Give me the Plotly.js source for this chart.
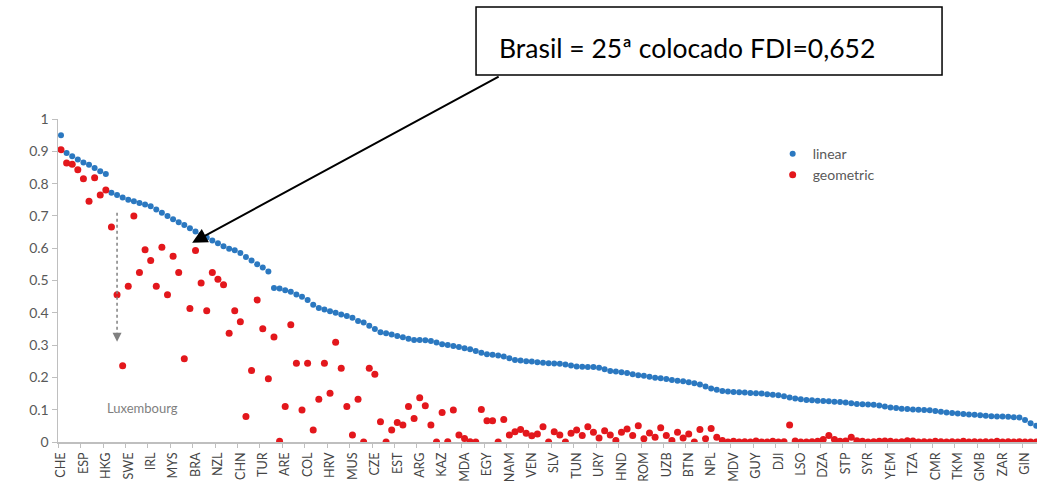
<!DOCTYPE html>
<html>
<head>
<meta charset="utf-8">
<script src="https://cdn.plot.ly/plotly-3.0.1.min.js"></script>
<style>html,body{margin:0;padding:0;background:#fff;}#chart{width:1037px;height:497px;}</style>
</head>
<body>
<div id="chart"></div>
<script>
// Country labels shown on the axis (every 4th country, starting at rank 1)
const tickLabels = ["CHE","ESP","HKG","SWE","IRL","MYS","BRA","NZL","CHN","TUR","ARE","COL","HRV","MUS","CZE","EST","ARG","KAZ","MDA","EGY","NAM","VEN","SLV","TUN","URY","HND","ROM","UZB","BTN","NPL","MDV","GUY","DJI","LSO","DZA","STP","SYR","YEM","TZA","CMR","TKM","GMB","ZAR","GIN"];

// Linear FDI by rank (1..175)
const linearValues = [
0.95,0.895,0.885,0.875,0.865,0.858,0.848,0.838,0.83,0.772,
0.765,0.757,0.75,0.745,0.74,0.735,0.73,0.72,0.71,0.70,
0.69,0.68,0.672,0.662,0.652,0.642,0.633,0.624,0.615,0.606,
0.598,0.594,0.585,0.573,0.562,0.55,0.54,0.528,0.477,0.475,
0.47,0.465,0.457,0.45,0.44,0.425,0.415,0.41,0.405,0.40,
0.395,0.39,0.385,0.375,0.37,0.36,0.35,0.34,0.337,0.333,
0.328,0.324,0.32,0.316,0.316,0.315,0.313,0.308,0.303,0.30,
0.297,0.294,0.29,0.287,0.282,0.276,0.272,0.27,0.268,0.265,
0.259,0.254,0.252,0.25,0.249,0.247,0.245,0.244,0.243,0.242,
0.24,0.237,0.234,0.233,0.232,0.232,0.23,0.225,0.22,0.218,
0.216,0.214,0.21,0.207,0.205,0.202,0.199,0.197,0.195,0.192,
0.19,0.188,0.185,0.182,0.178,0.172,0.166,0.162,0.158,0.156,
0.155,0.154,0.153,0.152,0.151,0.15,0.148,0.146,0.145,0.142,
0.138,0.135,0.132,0.13,0.129,0.128,0.127,0.126,0.125,0.124,
0.122,0.12,0.118,0.117,0.116,0.115,0.113,0.11,0.107,0.105,
0.103,0.102,0.101,0.1,0.099,0.098,0.096,0.094,0.091,0.09,
0.088,0.087,0.085,0.084,0.083,0.081,0.08,0.079,0.079,0.078,
0.077,0.076,0.068,0.058,0.05];

// Geometric FDI by the same rank order
const geometricValues = [
0.905,0.864,0.86,0.843,0.815,0.745,0.818,0.765,0.78,0.666,
0.456,0.236,0.482,0.70,0.525,0.595,0.562,0.482,0.603,0.456,
0.575,0.525,0.258,0.413,0.593,0.492,0.406,0.525,0.504,0.487,
0.337,0.406,0.372,0.079,0.221,0.44,0.351,0.196,0.325,0.002,
0.11,0.363,0.244,0.099,0.244,0.037,0.132,0.244,0.151,0.309,
0.228,0.11,0.022,0.132,0.0,0.228,0.21,0.063,0.0,0.037,
0.06,0.053,0.11,0.073,0.137,0.112,0.053,0.0,0.091,0.001,
0.099,0.022,0.011,0.001,0.0,0.101,0.066,0.066,0.0,0.07,
0.022,0.032,0.039,0.027,0.019,0.025,0.047,0.0,0.032,0.022,
0.0,0.027,0.037,0.02,0.047,0.03,0.012,0.035,0.022,0.005,
0.03,0.04,0.02,0.05,0.01,0.028,0.015,0.044,0.02,0.005,
0.03,0.012,0.025,0.0,0.039,0.01,0.042,0.015,0.005,0.0,
0.002,0.0,0.001,0.0,0.003,0.0,0.0,0.002,0.0,0.001,
0.053,0.003,0.0,0.0,0.001,0.002,0.008,0.02,0.008,0.002,
0.003,0.015,0.004,0.002,0.0,0.001,0.002,0.003,0.002,0.0,
0.001,0.004,0.003,0.0,0.001,0.0,0.002,0.001,0.0,0.001,
0.0,0.002,0.0,0.001,0.0,0.001,0.0,0.002,0.0,0.001,
0.0,0.001,0.0,0.0,0.0];

const yTicks = [0,0.1,0.2,0.3,0.4,0.5,0.6,0.7,0.8,0.9,1];
const yTickText = ["0","0.1","0.2","0.3","0.4","0.5","0.6","0.7","0.8","0.9","1"];

const brazilRank = 25;
const luxembourgRank = 11;

const ranks = linearValues.map((_, i) => i + 1);
const tickRanks = tickLabels.map((_, k) => 1 + 4 * k);

const traces = [
  {x: ranks, y: linearValues, type: 'scatter', mode: 'markers', name: 'linear',
   marker: {color: '#2b78c0', size: 6}, cliponaxis: true},
  {x: ranks, y: geometricValues, type: 'scatter', mode: 'markers', name: 'geometric',
   marker: {color: '#e3171c', size: 7}, cliponaxis: true}
];

const gray = '#595959';
const layout = {
  width: 1037, height: 497,
  margin: {l: 58, r: 0, t: 119, b: 55, pad: 0},
  paper_bgcolor: '#ffffff', plot_bgcolor: '#ffffff',
  font: {family: 'Lato, "Open Sans", sans-serif', color: gray, size: 12},
  showlegend: true,
  legend: {x: 0.73, y: 0.941, xanchor: 'left', yanchor: 'top', bgcolor: 'rgba(0,0,0,0)',
           font: {size: 14, color: gray}, itemwidth: 30, tracegroupgap: 0},
  xaxis: {
    range: [0.465, 175.14], showgrid: false, zeroline: false,
    showline: true, linecolor: '#bfbfbf', linewidth: 1.5,
    tickmode: 'array', tickvals: tickRanks.map(v => v - 0.5), ticktext: tickLabels,
    ticks: 'outside', ticklen: 4, tickcolor: '#bfbfbf', tickangle: -90,
    ticklabelshift: 3,
    tickfont: {size: 12.5, color: '#454545', family: 'Lato, sans-serif'}
  },
  yaxis: {
    range: [0, 1], showgrid: false, zeroline: false,
    showline: true, linecolor: '#bfbfbf', linewidth: 1.5,
    tickmode: 'array', tickvals: yTicks, ticktext: yTickText,
    ticks: 'outside', ticklen: 5, tickcolor: '#bfbfbf',
    tickfont: {size: 14, color: gray, family: 'Lato, sans-serif'}
  },
  shapes: [
    {type: 'rect', xref: 'paper', yref: 'paper', x0: 0.427, x1: 0.903, y0: 1.136, y1: 1.347,
     line: {color: '#000000', width: 1.5}, fillcolor: '#ffffff', layer: 'above'},
    {type: 'line', xref: 'x', yref: 'y', x0: luxembourgRank, x1: luxembourgRank, y0: 0.71, y1: 0.335,
     line: {color: '#808080', width: 1.5, dash: 'dot'}}
  ],
  annotations: [
    {xref: 'paper', yref: 'paper', x: 0.4484, y: 1.22, xanchor: 'left', yanchor: 'middle',
     text: 'Brasil = 25ª colocado FDI=0,652', showarrow: false,
     font: {family: 'Lato, "Open Sans", sans-serif', size: 26.5, color: '#000000'}},
    {x: brazilRank - 0.6, y: 0.617, xref: 'x', yref: 'y', text: '', showarrow: true,
     ax: 308, ay: -167, arrowhead: 2, arrowsize: 1.5, arrowwidth: 2, arrowcolor: '#000000'},
    {x: luxembourgRank, y: 0.31, xref: 'x', yref: 'y', text: '', showarrow: true,
     ax: 0, ay: -8, arrowhead: 2, arrowsize: 1.2, arrowwidth: 1.5, arrowcolor: '#808080'},
    {x: 15.6, y: 0.105, xref: 'x', yref: 'y', text: 'Luxembourg', showarrow: false,
     font: {size: 13, color: '#7f7f7f', family: 'Lato, sans-serif'}}
  ]
};

Plotly.newPlot('chart', traces, layout, {displayModeBar: false, staticPlot: true});
</script>
</body>
</html>
